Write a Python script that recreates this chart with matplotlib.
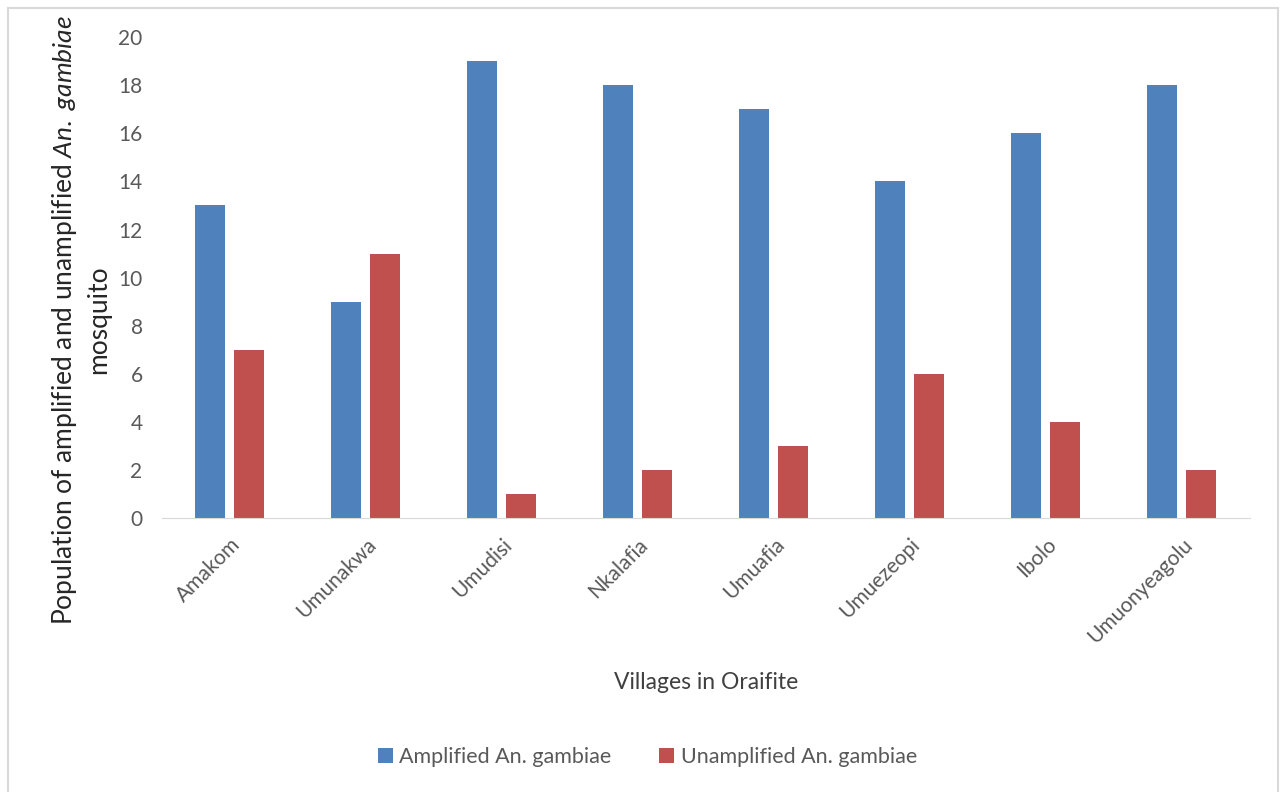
import numpy as np
import matplotlib
matplotlib.use('Agg')
from matplotlib import pyplot as plt
from matplotlib.patches import Rectangle

villages = ['Amakom', 'Umunakwa', 'Umudisi', 'Nkalafia', 'Umuafia',
            'Umuezeopi', 'Ibolo', 'Umuonyeagolu']
amplified = [13, 9, 19, 18, 17, 14, 16, 18]
unamplified = [7, 11, 1, 2, 3, 6, 4, 2]
yticks = [0, 2, 4, 6, 8, 10, 12, 14, 16, 18, 20]

plt.rcParams['font.family'] = ['Lato', 'DejaVu Sans']
plt.rcParams['mathtext.fontset'] = 'custom'
plt.rcParams['mathtext.rm'] = 'Lato'
plt.rcParams['mathtext.it'] = 'Lato:italic'

grey = '#595959'
blue = '#4F81BD'
red = '#C0504D'

fig = plt.figure(figsize=(12.82, 7.92), dpi=100)
ax = fig.add_axes([0.1264, 0.346, 0.8486, 0.607])

x = np.arange(len(villages))
w = 0.22
ax.bar(x - 0.145, amplified, w, color=blue, label='Amplified An. gambiae')
ax.bar(x + 0.140, unamplified, w, color=red, label='Unamplified An. gambiae')

ax.set_xlim(-0.5, len(villages) - 0.5)
ax.set_ylim(0, 20)
ax.set_yticks(yticks)
ax.set_xticks(x)
ax.set_xticklabels(villages, rotation=45, ha='right', rotation_mode='anchor')
ax.tick_params(axis='both', length=0, labelsize=15, colors=grey, pad=14)
ax.tick_params(axis='x', pad=12)
for s in ['top', 'right', 'left']:
    ax.spines[s].set_visible(False)
ax.spines['bottom'].set_color('#d9d9d9')

ax.set_xlabel('Villages in Oraifite', fontsize=16.5, color='#404040', labelpad=18)

fig.text(0.063, 1 - 320 / 792,
         'Population of amplified and unamplified $\\it{An.\\ gambiae}$\nmosquito',
         rotation=90, ha='center', va='center', multialignment='center',
         fontsize=19, color='#262626', linespacing=1.35)

leg = fig.legend(loc='center', bbox_to_anchor=(0.505, 1 - 757 / 792), ncol=2,
                 frameon=False, fontsize=15.5, handlelength=0.7, handleheight=0.7,
                 columnspacing=2.2, handletextpad=0.3)
for t in leg.get_texts():
    t.set_color(grey)

# thin frame round the whole chart
fig.patches.append(Rectangle((8 / 1282, -0.01), 1270 / 1282, 1 - 8 / 792 + 0.01,
                             transform=fig.transFigure, fill=False,
                             edgecolor='#d9d9d9', linewidth=1.5))

fig.savefig('out.png', dpi=100)
